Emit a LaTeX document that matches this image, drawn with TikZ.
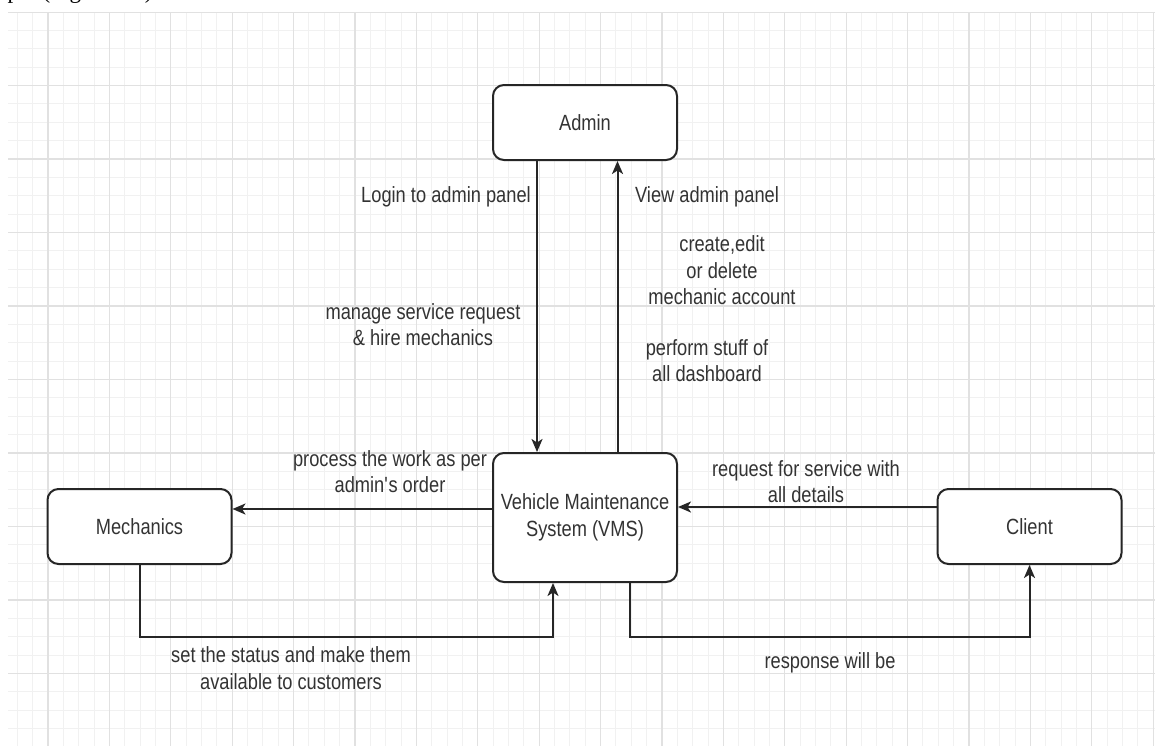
\documentclass[tikz,border=0pt]{standalone}
\usepackage{fontspec}
\setmainfont{Liberation Sans}[FakeStretch=0.83]
\newfontfamily\capserif{Liberation Serif}
\usetikzlibrary{arrows.meta,calc}
\definecolor{ink}{HTML}{333333}
\definecolor{edge}{HTML}{262626}
\definecolor{gridminor}{HTML}{F1F1F1}
\definecolor{gridmajor}{HTML}{E1E1E1}

\begin{document}
\begin{tikzpicture}[x=1pt,y=-1pt,
  box/.style={draw=edge, line width=2pt, rounded corners=11pt, fill=white,
    minimum width=184pt, minimum height=75pt, inner sep=0pt, align=center,
    text=ink, font=\fontsize{22}{27}\selectfont},
  lbl/.style={text=ink, align=center, inner sep=0pt,
    font=\fontsize{22}{26.5}\selectfont},
  arr/.style={draw=edge, line width=2pt,
    -{Stealth[length=13pt,width=11pt,inset=3.5pt]}},
]
% page and white background
\useasboundingbox (0,0) rectangle (1155,745);
\fill[white] (0,0) rectangle (1155,745);

% caption line cut off by the page top
\node[anchor=base west, inner sep=0pt, text=black,
  font=\capserif\fontsize{23}{27}\selectfont] (capfrag) at (-22,-1.5) {output (Figure 3.1)};

% drawing grid
\begin{scope}
  \clip (8,12) rectangle (1155,745);
  \foreach \k in {-3,...,72}
    \draw[gridminor, line width=1pt] ({48+15.35*\k},12) -- ++(0,735);
  \foreach \k in {0,...,40}
    \draw[gridminor, line width=1pt] (8,{12+18.375*\k}) -- ++(1150,0);
  \foreach \k in {0,...,18}
    \draw[gridmajor, line width=1.2pt] ({48+61.4*\k},12) -- ++(0,735);
  \foreach \k in {0,...,10}
    \draw[gridmajor, line width=1.2pt] (8,{12+73.5*\k}) -- ++(1150,0);
\end{scope}

% entities
\node[box] (admin) at (585,122.5) {Admin};
\node[box, minimum height=129pt] (vms) at (585,517.5) {Vehicle Maintenance\\System (VMS)};
\node[box] (mech) at (139.5,526.5) {Mechanics};
\node[box] (client) at (1029.5,526.5) {Client};

% bottom routing level
\coordinate (yb) at (0,637);

% data flows
\draw[arr] ([xshift=-48pt]admin.south) -- ([xshift=-48pt]vms.north);
\draw[arr] ([xshift=32.5pt]vms.north) -- ([xshift=32.5pt]admin.south);
\draw[arr] ([yshift=8.5pt]vms.west) -- ([yshift=8.5pt]vms.west -| mech.east);
\draw[arr] ([yshift=19.5pt]client.west) -- ([yshift=19.5pt]client.west -| vms.east);
\draw[arr] (mech.south) -- (mech.south |- yb) -| ([xshift=-32pt]vms.south);
\draw[arr] ([xshift=44.5pt]vms.south) -- ([xshift=44.5pt]vms.south |- yb) -| (client.south);

% flow labels
\node[lbl] (l1) at (446,197) {Login to admin panel};
\node[lbl] (l2) at (707,197) {View admin panel};
\node[lbl] (l3) at (722,270.5) {create,edit\\or delete\\mechanic account};
\node[lbl] (l4) at (423,324.5) {manage service request\\\& hire mechanics};
\node[lbl] (l5) at (707,360.5) {perform stuff of\\all dashboard};
\node[lbl] (l6) at (390,471.5) {process the work as per\\admin\textquotesingle s order};
\node[lbl] (l7) at (806,481.5) {request for service with\\all details};
\node[lbl] (l8) at (291,668) {set the status and make them\\available to customers};
\node[lbl] (l9) at (830,663) {response will be};
\end{tikzpicture}
\end{document}
